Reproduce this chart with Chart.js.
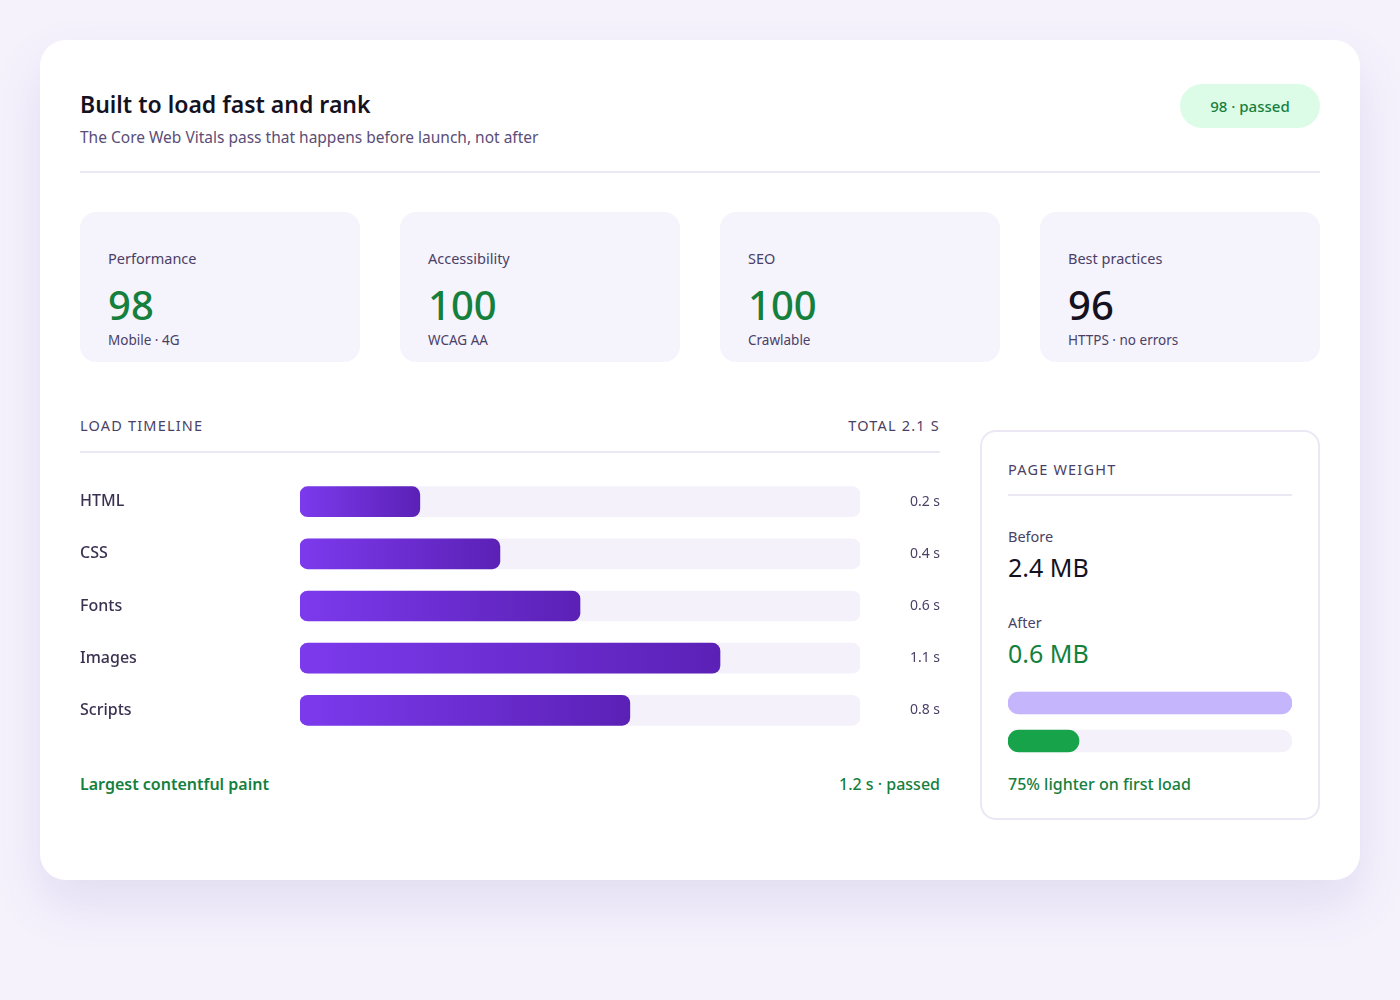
<!DOCTYPE html>
<html><head><meta charset="utf-8">
<script src="https://cdn.jsdelivr.net/npm/chart.js@4"></script>
<style>
*{box-sizing:border-box;margin:0;padding:0}
body{width:1400px;height:1000px;background:#f5f2fc;font-family:"Noto Sans","Open Sans",sans-serif;position:relative;overflow:hidden}
.card{position:absolute;left:40px;top:40px;width:1320px;height:840px;background:#fff;border-radius:26px;box-shadow:0 24px 50px rgba(110,80,180,.13)}
.abs{position:absolute}
h1{position:absolute;left:80px;top:88px;font-size:23px;font-weight:600;color:#15121f}
.sub{left:80px;top:126px;font-size:15.5px;color:#5b4d78}
.badge{left:1180px;top:84px;width:140px;height:44px;border-radius:22px;background:#dcfce7;color:#15803d;font-size:15px;font-weight:500;display:flex;align-items:center;justify-content:center}
.hr{height:2px;background:#ebe8f3}
.stat{top:212px;width:280px;height:150px;border-radius:16px;background:#f5f3fc;padding:36px 28px 0}
.stat .l{font-size:14.5px;color:#4a3f66}
.stat .n{font-size:40px;font-weight:500;color:#15803d;line-height:1;margin-top:17px}
.stat .s{font-size:13.5px;color:#4a3f66;margin-top:6px}
.cap{font-size:14.5px;letter-spacing:1.2px;color:#4a3f66}
.green{color:#15803d;font-size:16px;font-weight:600}
.pw{left:980px;top:430px;width:340px;height:390px;border:2px solid #ebe7f5;border-radius:16px}
</style></head><body>
<div class="card"></div>
<h1>Built to load fast and rank</h1>
<div class="abs sub">The Core Web Vitals pass that happens before launch, not after</div>
<div class="abs badge">98 · passed</div>
<div class="abs hr" style="left:80px;top:171px;width:1240px"></div>
<div class="abs stat" style="left:80px"><div class="l">Performance</div><div class="n">98</div><div class="s">Mobile · 4G</div></div>
<div class="abs stat" style="left:400px"><div class="l">Accessibility</div><div class="n">100</div><div class="s">WCAG AA</div></div>
<div class="abs stat" style="left:720px"><div class="l">SEO</div><div class="n">100</div><div class="s">Crawlable</div></div>
<div class="abs stat" style="left:1040px"><div class="l">Best practices</div><div class="n" style="color:#15121f">96</div><div class="s">HTTPS · no errors</div></div>

<div class="abs cap" style="left:80px;top:415px">LOAD TIMELINE</div>
<div class="abs cap" style="left:800px;width:140px;text-align:right;top:415px">TOTAL 2.1 S</div>
<div class="abs hr" style="left:80px;top:451px;width:860px"></div>
<div class="abs" style="left:80px;top:466px;width:860px;height:280px"><canvas id="tl"></canvas></div>
<div class="abs green" style="left:80px;top:773px">Largest contentful paint</div>
<div class="abs green" style="left:740px;width:200px;text-align:right;top:773px;font-weight:500">1.2 s · passed</div>

<div class="abs pw"></div>
<div class="abs cap" style="left:1008px;top:459px">PAGE WEIGHT</div>
<div class="abs hr" style="left:1008px;top:494px;width:284px"></div>
<div class="abs" style="left:1008px;top:526px;font-size:14.5px;color:#4a3f66">Before</div>
<div class="abs" style="left:1008px;top:550px;font-size:25px;color:#15121f">2.4 MB</div>
<div class="abs" style="left:1008px;top:612px;font-size:14.5px;color:#4a3f66">After</div>
<div class="abs" style="left:1008px;top:636px;font-size:25px;color:#15803d">0.6 MB</div>
<div class="abs" style="left:1008px;top:684px;width:284px;height:76px"><canvas id="pwc"></canvas></div>
<div class="abs green" style="left:1008px;top:773px;font-weight:500">75% lighter on first load</div>
<script>
const resources=["HTML","CSS","Fonts","Images","Scripts"];
const barPercent=[21.4,35.7,50,75,58.9];
const timeLabels=["0.2 s","0.4 s","0.6 s","1.1 s","0.8 s"];
const weightLabels=["Before","After"];
const weightMB=[2.4,0.6];
const FONT="'Noto Sans','Open Sans',sans-serif";
const track=resources.map(()=>100);
function grad(ctx){
  const c=ctx.chart;if(!c.chartArea)return '#7c3aed';
  const x=c.scales.x,l=x.getPixelForValue(0),r=x.getPixelForValue(ctx.raw);
  const g=c.ctx.createLinearGradient(l,0,Math.max(r,l+1),0);
  g.addColorStop(0,'#7c3aed');g.addColorStop(1,'#5b21b6');return g;
}
new Chart(document.getElementById('tl'),{type:'bar',
 data:{labels:resources,datasets:[
  {data:barPercent,backgroundColor:grad,borderRadius:8,borderSkipped:false,barThickness:30,order:1},
  {data:track,backgroundColor:'#f4f1fb',borderRadius:8,borderSkipped:false,barThickness:30,order:2}]},
 options:{indexAxis:'y',responsive:true,maintainAspectRatio:false,animation:false,
  plugins:{legend:{display:false},tooltip:{enabled:false}},layout:{padding:0},
  datasets:{bar:{grouped:false}},
  scales:{x:{min:0,max:100,display:false},
   y:{grid:{display:false},border:{display:false},afterFit:s=>{s.width=220},
      ticks:{crossAlign:'far',padding:0,color:'#3a3150',font:{family:FONT,size:16,weight:500}}},
   yR:{type:'category',labels:timeLabels,position:'right',grid:{display:false},border:{display:false},afterFit:s=>{s.width=80},
      ticks:{crossAlign:'far',padding:0,color:'#4a3f66',font:{family:FONT,size:14}}}}}});
new Chart(document.getElementById('pwc'),{type:'bar',
 data:{labels:weightLabels,datasets:[
  {data:weightMB,backgroundColor:['#c4b5fd','#16a34a'],borderRadius:11,borderSkipped:false,barThickness:22,order:1},
  {data:[2.4,2.4],backgroundColor:'#f4f1fb',borderRadius:11,borderSkipped:false,barThickness:22,order:2}]},
 options:{indexAxis:'y',responsive:true,maintainAspectRatio:false,animation:false,
  plugins:{legend:{display:false},tooltip:{enabled:false}},datasets:{bar:{grouped:false}},
  scales:{x:{min:0,max:2.4,display:false},y:{display:false}}}});
</script></body></html>
